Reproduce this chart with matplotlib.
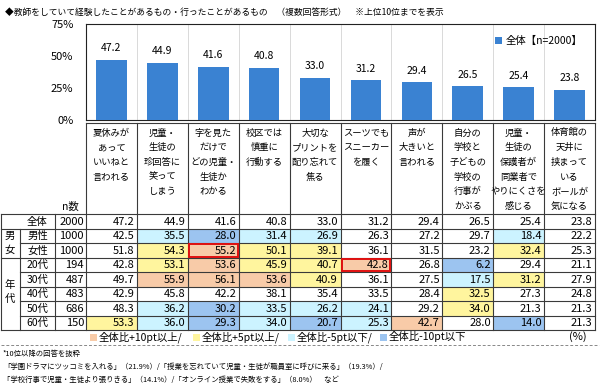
import numpy as np
import matplotlib as mpl
import matplotlib.pyplot as plt
from matplotlib.patches import Rectangle

plt.rcParams['font.family'] = ['Noto Sans CJK JP', 'DejaVu Sans']

title = "◆教師をしていて経験したことがあるもの・行ったことがあるもの　（複数回答形式）　※上位10位までを表示"

items = ["夏休みが\nあって\nいいねと\n言われる",
         "児童・\n生徒の\n珍回答に\n笑って\nしまう",
         "字を見た\nだけで\nどの児童・\n生徒か\nわかる",
         "校区では\n慎重に\n行動する",
         "大切な\nプリントを\n配り忘れて\n焦る",
         "スーツでも\nスニーカー\nを履く",
         "声が\n大きいと\n言われる",
         "自分の\n学校と\n子どもの\n学校の\n行事が\nかぶる",
         "児童・\n生徒の\n保護者が\n同業者で\nやりにくさを\n感じる",
         "体育館の\n天井に\n挟まって\nいる\nボールが\n気になる"]

row_labels = ["全体", "男性", "女性", "20代", "30代", "40代", "50代", "60代"]
row_n = [2000, 1000, 1000, 194, 487, 483, 686, 150]

zentai = [47.2, 44.9, 41.6, 40.8, 33.0, 31.2, 29.4, 26.5, 25.4, 23.8]
dansei = [42.5, 35.5, 28.0, 31.4, 26.9, 26.3, 27.2, 29.7, 18.4, 22.2]
josei = [51.8, 54.3, 55.2, 50.1, 39.1, 36.1, 31.5, 23.2, 32.4, 25.3]
age20 = [42.8, 53.1, 53.6, 45.9, 40.7, 42.8, 26.8, 6.2, 29.4, 21.1]
age30 = [49.7, 55.9, 56.1, 53.6, 40.9, 36.1, 27.5, 17.5, 31.2, 27.9]
age40 = [42.9, 45.8, 42.2, 38.1, 35.4, 33.5, 28.4, 32.5, 27.3, 24.8]
age50 = [48.3, 36.2, 30.2, 33.5, 26.2, 24.1, 29.2, 34.0, 21.3, 21.3]
age60 = [53.3, 36.0, 29.3, 34.0, 20.7, 25.3, 42.7, 28.0, 14.0, 21.3]
rows = [zentai, dansei, josei, age20, age30, age40, age50, age60]

# highlighted cells (row, col)
red_boxes = [(2, 2), (3, 5)]

legend_labels = ["全体比+10pt以上/", "全体比+5pt以上/", "全体比-5pt以下/", "全体比-10pt以下"]
notes = ["*10位以降の回答を抜粋",
         "「学園ドラマにツッコミを入れる」（21.9%）/「授業を忘れていて児童・生徒が職員室に呼びに来る」（19.3%）/",
         "「学校行事で児童・生徒より張りきる」（14.1%）/「オンライン授業で失敗をする」（8.0%）　など"]

BAR = '#3A82D2'
C_P10, C_P5, C_M5, C_M10 = '#F8CBA8', '#FFF59E', '#CCF3FF', '#9CC4F0'
LINE = '#3a3a3a'


def cell_color(v, base):
    d = v - base
    if d >= 10:
        return C_P10
    if d >= 5:
        return C_P5
    if d <= -10:
        return C_M10
    if d <= -5:
        return C_M5
    return None


def plot_main():
    W, H = 600, 387
    fig = plt.figure(figsize=(6, 3.87), dpi=100)
    x0, x1 = 86, 595
    cw = (x1 - x0) / len(items)

    # bar chart
    ax = fig.add_axes([x0 / W, 1 - 120 / H, (x1 - x0) / W, 96 / H])
    xs = np.arange(len(zentai))
    ax.bar(xs, zentai, width=0.6, color=BAR, label="全体【n=2000】", zorder=3)
    for x, v in zip(xs, zentai):
        ax.text(x, v + 5, f"{v:.1f}", ha='center', va='bottom', fontsize=7.5)
    ax.set_xlim(-0.5, len(zentai) - 0.5)
    ax.set_ylim(0, 75)
    ax.set_yticks([0, 25, 50, 75])
    ax.set_yticklabels(["0%", "25%", "50%", "75%"], fontsize=8)
    ax.set_xticks([])
    for b in np.arange(0.5, len(zentai) - 0.5):
        ax.axvline(b, color='#d9d9d9', lw=0.7, zorder=1)
    ax.tick_params(axis='y', length=0, pad=9)
    for s in ax.spines.values():
        s.set_color('#222222')
        s.set_linewidth(0.8)
    ax.legend(loc='upper right', bbox_to_anchor=(0.985, 0.93), frameon=False,
              fontsize=7.5, handlelength=0.7, handleheight=0.7,
              handletextpad=0.3, borderpad=0)

    # table and texts on pixel grid
    tx = fig.add_axes([0, 0, 1, 1])
    tx.set_xlim(0, W)
    tx.set_ylim(H, 0)
    tx.set_axis_off()

    tx.text(5, 12, title, fontsize=6.3, va='center', ha='left')

    h_top, h_bot = 123, 214
    rh = 14.5
    y_end = h_bot + rh * len(rows)

    # header texts
    for j, lab in enumerate(items):
        cx = x0 + cw * (j + 0.5)
        for k, line in enumerate(lab.split("\n")):
            tx.text(cx, 133 + 14.7 * k, line, fontsize=6.7, ha='center', va='center')
    tx.text(70, 207, "n数", fontsize=7.5, ha='center', va='center')

    # cells
    for i, (vals, lab, n) in enumerate(zip(rows, row_labels, row_n)):
        yt = h_bot + rh * i
        yc = yt + rh / 2
        for j, v in enumerate(vals):
            c = cell_color(v, zentai[j]) if i > 0 else None
            if c:
                tx.add_patch(Rectangle((x0 + cw * j, yt), cw, rh, fc=c, ec='none'))
            tx.text(x0 + cw * (j + 1) - 2.5, yc + 0.5, f"{v:.1f}", fontsize=8,
                    ha='right', va='center')
        tx.text(37.5, yc + 0.5, lab, fontsize=7.5, ha='center', va='center')
        tx.text(84, yc + 0.5, str(n), fontsize=8, ha='right', va='center')

    tx.text(10, h_bot + rh * 1.5, "男", fontsize=7.5, ha='center', va='center')
    tx.text(10, h_bot + rh * 2.5, "女", fontsize=7.5, ha='center', va='center')
    tx.text(10, 285, "年", fontsize=7.5, ha='center', va='center')
    tx.text(10, 299, "代", fontsize=7.5, ha='center', va='center')

    # grid lines
    lw = 0.8
    tx.plot([x0, x1], [h_top, h_top], color=LINE, lw=lw)
    for j in range(len(items) + 1):
        xx = x0 + cw * j
        tx.plot([xx, xx], [h_top, y_end], color=LINE, lw=lw)
    for i in range(len(rows) + 1):
        yy = h_bot + rh * i
        start = 20 if i in (2, 4, 5, 6, 7) else 0.5
        tx.plot([start, x1], [yy, yy], color=LINE, lw=lw)
    tx.plot([0.5, 0.5], [h_bot, y_end], color=LINE, lw=lw)
    tx.plot([20, 20], [h_bot + rh, y_end], color=LINE, lw=lw)
    tx.plot([55, 55], [h_bot, y_end], color=LINE, lw=lw)

    for (r, c) in red_boxes:
        tx.add_patch(Rectangle((x0 + cw * c + 1, h_bot + rh * r + 1), cw - 2, rh - 2,
                               fc='none', ec='#e01010', lw=1.4, zorder=5))

    # color legend row
    ly = 337
    for lx, lab, col in zip([90, 193, 288, 380], legend_labels,
                            [C_P10, C_P5, C_M5, C_M10]):
        tx.add_patch(Rectangle((lx, ly - 3.5), 7, 7, fc=col, ec='none'))
        tx.text(lx + 9, ly, lab, fontsize=7.5, ha='left', va='center')
    tx.text(587, ly, "(%)", fontsize=8, ha='right', va='center')

    tx.plot([1, 599], [345, 345], color='#888888', lw=0.7, ls=(0, (3, 2)))

    for k, note in enumerate(notes):
        tx.text(3, 354 + 12.8 * k, note, fontsize=5.3, ha='left', va='center')

    fig.savefig("out.png", dpi=100)


if __name__ == '__main__':
    plot_main()
